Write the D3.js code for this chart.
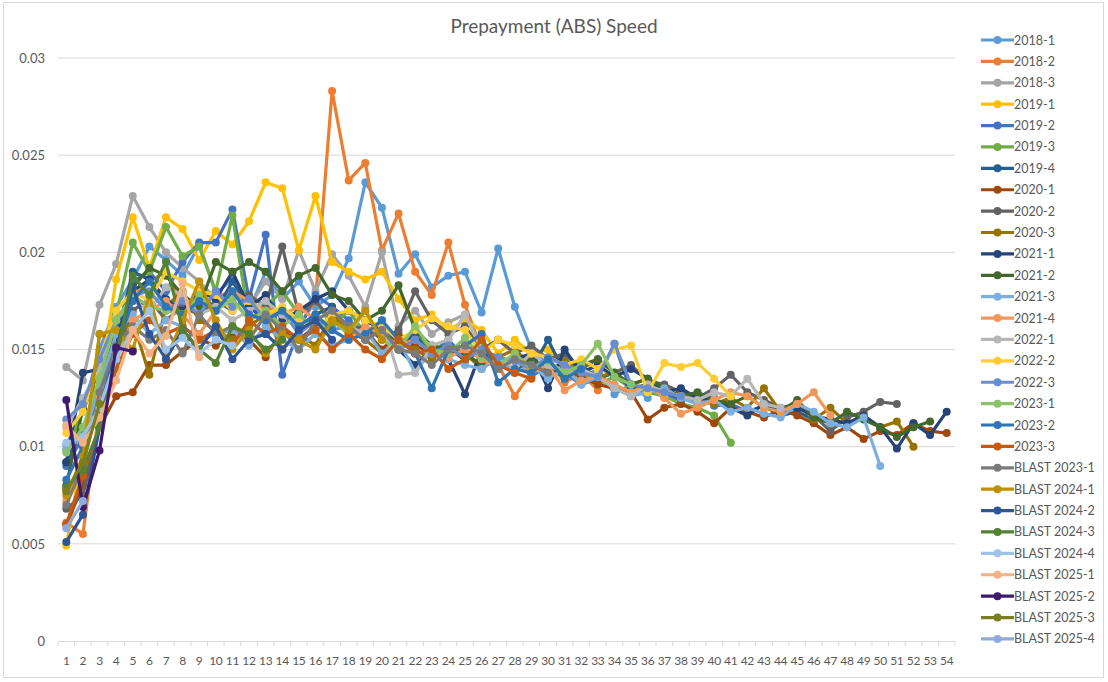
<!DOCTYPE html>
<html>
<head>
<meta charset="utf-8">
<script src="https://cdn.jsdelivr.net/npm/d3@7"></script>
<style>
  body { margin: 0; background: #fff; }
  text { font-family: Lato, "Noto Sans", sans-serif; fill: #595959; }
</style>
</head>
<body>
<div class="container"></div>
<script>
// prepayment speed by deal, period index on x

var categories = [1,2,3,4,5,6,7,8,9,10,11,12,13,14,15,16,17,18,19,20,21,22,23,24,25,26,27,28,29,30,
  31,32,33,34,35,36,37,38,39,40,41,42,43,44,45,46,47,48,49,50,51,52,53,54]
var yTicks = [0, 0.005, 0.01, 0.015, 0.02, 0.025, 0.03]

var seriesNames = ['2018-1','2018-2','2018-3','2019-1','2019-2','2019-3','2019-4','2020-1','2020-2','2020-3',
  '2021-1','2021-2','2021-3','2021-4','2022-1','2022-2','2022-3','2023-1','2023-2','2023-3',
  'BLAST 2023-1','BLAST 2024-1','BLAST 2024-2','BLAST 2024-3','BLAST 2024-4','BLAST 2025-1','BLAST 2025-2','BLAST 2025-3','BLAST 2025-4']

var s2018_1 = [.0101,.0118,.0150,.0172,.0186,.0203,.0196,.0188,.0204,.0179,.0186,.0170,.0190,.0176,.0185,.0172,.0178,.0197,.0236,.0223,.0189,.0199,.0182,.0188,.0190,.0169,.0202,.0172,.0150,.0142,.0148,.0135,.0140,.0127,.0132,.0125]
var s2018_2 = [.0061,.0055,.0120,.0150,.0177,.0185,.0190,.0172,.0168,.0180,.0176,.0165,.0172,.0168,.0162,.0175,.0283,.0237,.0246,.0201,.0220,.0190,.0178,.0205,.0173,.0150,.0142,.0126,.0138,.0145,.0133,.0138,.0129]
var s2018_3 = [.0141,.0134,.0173,.0194,.0229,.0213,.0200,.0192,.0185,.0176,.0180,.0172,.0185,.0176,.0201,.0180,.0199,.0188,.0172,.0200,.0162,.0170,.0158,.0164,.0168,.0150,.0155,.0148,.0145,.0141,.0138,.0140,.0134,.0130,.0128,.0131,.0127,.0125,.0122,.0126]
var s2019_1 = [.0049,.0098,.0132,.0186,.0218,.0192,.0218,.0212,.0196,.0211,.0204,.0216,.0236,.0233,.0201,.0229,.0195,.0190,.0186,.0190,.0176,.0165,.0168,.0160,.0165,.0160,.0148,.0155,.0148,.0150,.0142,.0144,.0140,.0137,.0132,.0130,.0128,.0127]
var s2019_2 = [.0090,.0105,.0135,.0160,.0185,.0190,.0180,.0195,.0205,.0205,.0222,.0176,.0209,.0137,.0160,.0178,.0172,.0165,.0158,.0162,.0150,.0157,.0148,.0155,.0146,.0150,.0140,.0145,.0136,.0142,.0138,.0132,.0135,.0153,.0128,.0130,.0126,.0124,.0127,.0121,.0122,.0118]
var s2019_3 = [.0098,.0118,.0140,.0168,.0205,.0190,.0213,.0198,.0203,.0180,.0219,.0165,.0172,.0180,.0168,.0175,.0162,.0170,.0158,.0165,.0152,.0160,.0148,.0150,.0145,.0152,.0140,.0148,.0138,.0142,.0135,.0140,.0132,.0136,.0130,.0128,.0126,.0122,.0120,.0116,.0102]
var s2019_4 = [.0092,.0110,.0125,.0155,.0190,.0186,.0175,.0168,.0180,.0170,.0185,.0172,.0165,.0170,.0160,.0168,.0172,.0160,.0155,.0163,.0152,.0158,.0146,.0152,.0144,.0150,.0142,.0146,.0140,.0155,.0138,.0142,.0135,.0138,.0130,.0132,.0128,.0125,.0123,.0124,.0120,.0118,.0121,.0116,.0118,.0114]
var s2020_1 = [.0060,.0080,.0110,.0126,.0128,.0142,.0142,.0149,.0155,.0152,.0158,.0155,.0146,.0160,.0155,.0162,.0165,.0158,.0160,.0150,.0158,.0152,.0148,.0150,.0146,.0150,.0142,.0145,.0140,.0138,.0140,.0136,.0132,.0130,.0128,.0114,.0120,.0122,.0118,.0112,.0120,.0118,.0115,.0119,.0116,.0112,.0106,.0110,.0104,.0108,.0106,.0112,.0108,.0107]
var s2020_2 = [.0068,.0075,.0112,.0145,.0170,.0176,.0165,.0172,.0168,.0175,.0170,.0178,.0172,.0203,.0168,.0175,.0165,.0160,.0162,.0155,.0160,.0180,.0165,.0158,.0162,.0150,.0155,.0148,.0152,.0145,.0148,.0140,.0145,.0138,.0142,.0134,.0132,.0128,.0125,.0130,.0137,.0128,.0124,.0120,.0122,.0116,.0108,.0115,.0118,.0123,.0122]
var s2020_3 = [.0078,.0085,.0158,.0155,.0165,.0137,.0172,.0180,.0165,.0160,.0155,.0162,.0168,.0150,.0158,.0152,.0168,.0160,.0155,.0148,.0155,.0150,.0145,.0152,.0148,.0140,.0146,.0150,.0142,.0138,.0144,.0140,.0136,.0138,.0132,.0135,.0128,.0126,.0124,.0122,.0125,.0120,.0130,.0118,.0122,.0114,.0120,.0112,.0116,.0110,.0113,.0100]
var s2021_1 = [.0092,.0138,.0140,.0155,.0180,.0186,.0176,.0170,.0180,.0176,.0190,.0172,.0178,.0165,.0170,.0176,.0180,.0170,.0165,.0160,.0150,.0142,.0150,.0145,.0127,.0150,.0140,.0145,.0148,.0130,.0150,.0138,.0142,.0136,.0140,.0135,.0128,.0130,.0125,.0124,.0120,.0116,.0122,.0118,.0120,.0116,.0114,.0112,.0116,.0110,.0099,.0112,.0106,.0118]
var s2021_2 = [.0080,.0120,.0115,.0150,.0182,.0192,.0188,.0178,.0172,.0195,.0190,.0195,.0190,.0180,.0188,.0192,.0178,.0175,.0165,.0170,.0183,.0160,.0152,.0150,.0148,.0142,.0146,.0138,.0145,.0140,.0136,.0142,.0145,.0138,.0132,.0135,.0130,.0126,.0128,.0124,.0122,.0126,.0120,.0118,.0124,.0115,.0112,.0118,.0114,.0110,.0105,.0110,.0113]
var s2021_3 = [.0099,.0105,.0130,.0158,.0168,.0158,.0165,.0162,.0155,.0158,.0160,.0152,.0162,.0155,.0150,.0158,.0152,.0155,.0160,.0148,.0155,.0138,.0150,.0145,.0142,.0140,.0146,.0138,.0142,.0135,.0140,.0132,.0136,.0130,.0126,.0128,.0130,.0125,.0122,.0124,.0118,.0120,.0117,.0115,.0122,.0118,.0112,.0110,.0115,.0090]
var s2021_4 = [.0072,.0090,.0125,.0145,.0165,.0170,.0175,.0168,.0158,.0170,.0180,.0175,.0170,.0168,.0172,.0165,.0160,.0155,.0162,.0158,.0152,.0155,.0148,.0146,.0150,.0145,.0140,.0146,.0138,.0142,.0129,.0134,.0136,.0132,.0128,.0132,.0125,.0117,.0120,.0124,.0128,.0126,.0120,.0118,.0122,.0128,.0116]
var s2022_1 = [.0110,.0125,.0140,.0165,.0175,.0170,.0182,.0178,.0168,.0172,.0165,.0170,.0175,.0168,.0160,.0165,.0170,.0162,.0158,.0165,.0137,.0138,.0152,.0155,.0168,.0150,.0146,.0140,.0148,.0142,.0138,.0140,.0136,.0130,.0126,.0132,.0128,.0126,.0124,.0128,.0126,.0135,.0122,.0120]
var s2022_2 = [.0107,.0118,.0145,.0170,.0180,.0175,.0190,.0185,.0180,.0178,.0170,.0175,.0168,.0172,.0165,.0160,.0168,.0170,.0165,.0162,.0155,.0160,.0166,.0162,.0160,.0148,.0155,.0152,.0148,.0146,.0142,.0145,.0140,.0150,.0152,.0128,.0143,.0141,.0143,.0135,.0126]
var s2022_3 = [.0114,.0122,.0145,.0165,.0178,.0180,.0170,.0175,.0168,.0180,.0172,.0176,.0165,.0170,.0158,.0165,.0160,.0162,.0155,.0160,.0150,.0155,.0148,.0152,.0145,.0150,.0146,.0144,.0140,.0146,.0142,.0138,.0136,.0153,.0132,.0130,.0128,.0126]
var s2023_1 = [.0097,.0110,.0135,.0165,.0178,.0172,.0170,.0168,.0178,.0170,.0176,.0165,.0170,.0162,.0168,.0160,.0165,.0158,.0170,.0155,.0150,.0162,.0150,.0148,.0156,.0146,.0142,.0148,.0140,.0144,.0138,.0142,.0153,.0136,.0132]
var s2023_2 = [.0083,.0100,.0120,.0150,.0175,.0185,.0172,.0168,.0175,.0170,.0180,.0168,.0165,.0170,.0162,.0168,.0160,.0155,.0158,.0165,.0155,.0148,.0130,.0150,.0152,.0158,.0133,.0140,.0138,.0145,.0135,.0140]
var s2023_3 = [.0060,.0085,.0110,.0140,.0158,.0165,.0158,.0162,.0155,.0160,.0152,.0165,.0158,.0162,.0155,.0160,.0150,.0158,.0150,.0145,.0155,.0148,.0150,.0140,.0145,.0155,.0142,.0138,.0135]
var sBlast2023_1 = [.0070,.0090,.0128,.0152,.0162,.0155,.0160,.0148,.0168,.0158,.0162,.0155,.0168,.0160,.0150,.0165,.0170,.0162,.0155,.0160,.0150,.0148,.0142,.0150,.0152,.0148,.0140,.0145,.0142,.0138]
var sBlast2024_1 = [.0075,.0095,.0158,.0160,.0150,.0178,.0145,.0165,.0185,.0165,.0150,.0160,.0148,.0158,.0155,.0150,.0165,.0160,.0170,.0155]
var sBlast2024_2 = [.0051,.0065,.0110,.0150,.0182,.0158,.0145,.0160,.0150,.0162,.0145,.0155,.0158,.0150,.0160,.0165,.0155]
var sBlast2024_3 = [.0079,.0088,.0110,.0145,.0188,.0178,.0195,.0160,.0150,.0143,.0162,.0158,.0150,.0155]
var sBlast2024_4 = [.0102,.0105,.0120,.0145,.0160,.0170,.0150,.0156,.0148,.0155,.0152]
var sBlast2025_1 = [.0111,.0102,.0115,.0134,.0160,.0148,.0157,.0184,.0146]
var sBlast2025_2 = [.0124,.0069,.0098,.0151,.0149]
var sBlast2025_3 = [.0077,.0092,.0122]
var sBlast2025_4 = [.0058,.0072]

var seriesValues = [s2018_1,s2018_2,s2018_3,s2019_1,s2019_2,s2019_3,s2019_4,s2020_1,s2020_2,s2020_3,
  s2021_1,s2021_2,s2021_3,s2021_4,s2022_1,s2022_2,s2022_3,s2023_1,s2023_2,s2023_3,
  sBlast2023_1,sBlast2024_1,sBlast2024_2,sBlast2024_3,sBlast2024_4,sBlast2025_1,sBlast2025_2,sBlast2025_3,sBlast2025_4]

var colors = ['#5B9BD5','#ED7D31','#A5A5A5','#FFC000','#4472C4','#70AD47','#255E91','#9E480E','#636363','#997300',
  '#264478','#43682B','#7CAFDD','#F1975A','#B7B7B7','#FFCD33','#698ED0','#8CC168','#2E75B6','#C55A11',
  '#7B7B7B','#BF9000','#2F5597','#548235','#9DC3E6','#F4B183','#3F1A6E','#7A7F1E','#8FAADC']

var W = 1108, H = 682
var plot = { left: 58, right: 955, top: 58, bottom: 641 }

var svg = d3.select('.container').append('svg')
  .attr('width', W)
  .attr('height', H)

// outer frame
svg.append('rect')
  .attr('x', 3.5).attr('y', 2.5)
  .attr('width', 1100).attr('height', 675)
  .attr('fill', '#fff').attr('stroke', '#d9d9d9')

var x = d3.scalePoint()
  .domain(categories)
  .range([plot.left, plot.right])
  .padding(0.5)

var y = d3.scaleLinear()
  .domain([0, 0.03])
  .range([plot.bottom, plot.top])

// gridlines
svg.append('g').selectAll('line').data(yTicks.slice(1)).enter().append('line')
  .attr('x1', plot.left).attr('x2', plot.right)
  .attr('y1', function (d) { return y(d) }).attr('y2', function (d) { return y(d) })
  .attr('stroke', '#d9d9d9').attr('stroke-width', 1)

// y labels
var yAxis = d3.axisLeft(y).tickValues(yTicks).tickSize(0).tickPadding(13)
  .tickFormat(function (d) { return d === 0 ? '0' : String(+d.toFixed(3)) })
svg.append('g').attr('transform', 'translate(' + plot.left + ',0)').call(yAxis)
  .call(function (g) { g.select('.domain').remove() })
  .selectAll('text').style('font-size', '13px').attr('fill', '#595959')

// x axis with ticks between categories
var step = x.step()
svg.append('line')
  .attr('x1', plot.left).attr('x2', plot.right)
  .attr('y1', plot.bottom + 0.5).attr('y2', plot.bottom + 0.5)
  .attr('stroke', '#d9d9d9')
svg.append('g').selectAll('line').data(d3.range(categories.length + 1)).enter().append('line')
  .attr('x1', function (i) { return plot.left + i * step }).attr('x2', function (i) { return plot.left + i * step })
  .attr('y1', plot.bottom).attr('y2', plot.bottom + 5)
  .attr('stroke', '#d9d9d9')
svg.append('g').selectAll('text').data(categories).enter().append('text')
  .attr('x', function (d) { return x(d) })
  .attr('y', plot.bottom + 24)
  .attr('text-anchor', 'middle')
  .style('font-size', '12px')
  .style('letter-spacing', '-0.3px')
  .text(function (d) { return d })

// title
svg.append('text')
  .attr('x', 554).attr('y', 33)
  .attr('text-anchor', 'middle')
  .style('font-size', '19px')
  .text('Prepayment (ABS) Speed')

var line = d3.line()
  .x(function (d, i) { return x(categories[i]) })
  .y(function (d) { return y(d) })

var series = svg.append('g').selectAll('g').data(seriesValues).enter().append('g')
series.append('path')
  .attr('d', function (d) { return line(d) })
  .attr('fill', 'none')
  .attr('stroke', function (d, i) { return colors[i] })
  .attr('stroke-width', 3.2)
  .attr('stroke-linejoin', 'round')
series.each(function (vals, si) {
  d3.select(this).selectAll('circle').data(vals).enter().append('circle')
    .attr('cx', function (d, i) { return x(categories[i]) })
    .attr('cy', function (d) { return y(d) })
    .attr('r', 4)
    .attr('fill', colors[si])
})

// legend
var legend = svg.append('g').selectAll('g').data(seriesNames).enter().append('g')
  .attr('transform', function (d, i) { return 'translate(981,' + (40 + i * 21.39) + ')' })
legend.append('line')
  .attr('x1', 0).attr('x2', 33).attr('y1', 0).attr('y2', 0)
  .attr('stroke', function (d, i) { return colors[i] }).attr('stroke-width', 3.2)
legend.append('circle')
  .attr('cx', 16.5).attr('cy', 0).attr('r', 4)
  .attr('fill', function (d, i) { return colors[i] })
legend.append('text')
  .attr('x', 33).attr('y', 4.5)
  .style('font-size', '12.5px')
  .text(function (d) { return d })
</script>
</body>
</html>
